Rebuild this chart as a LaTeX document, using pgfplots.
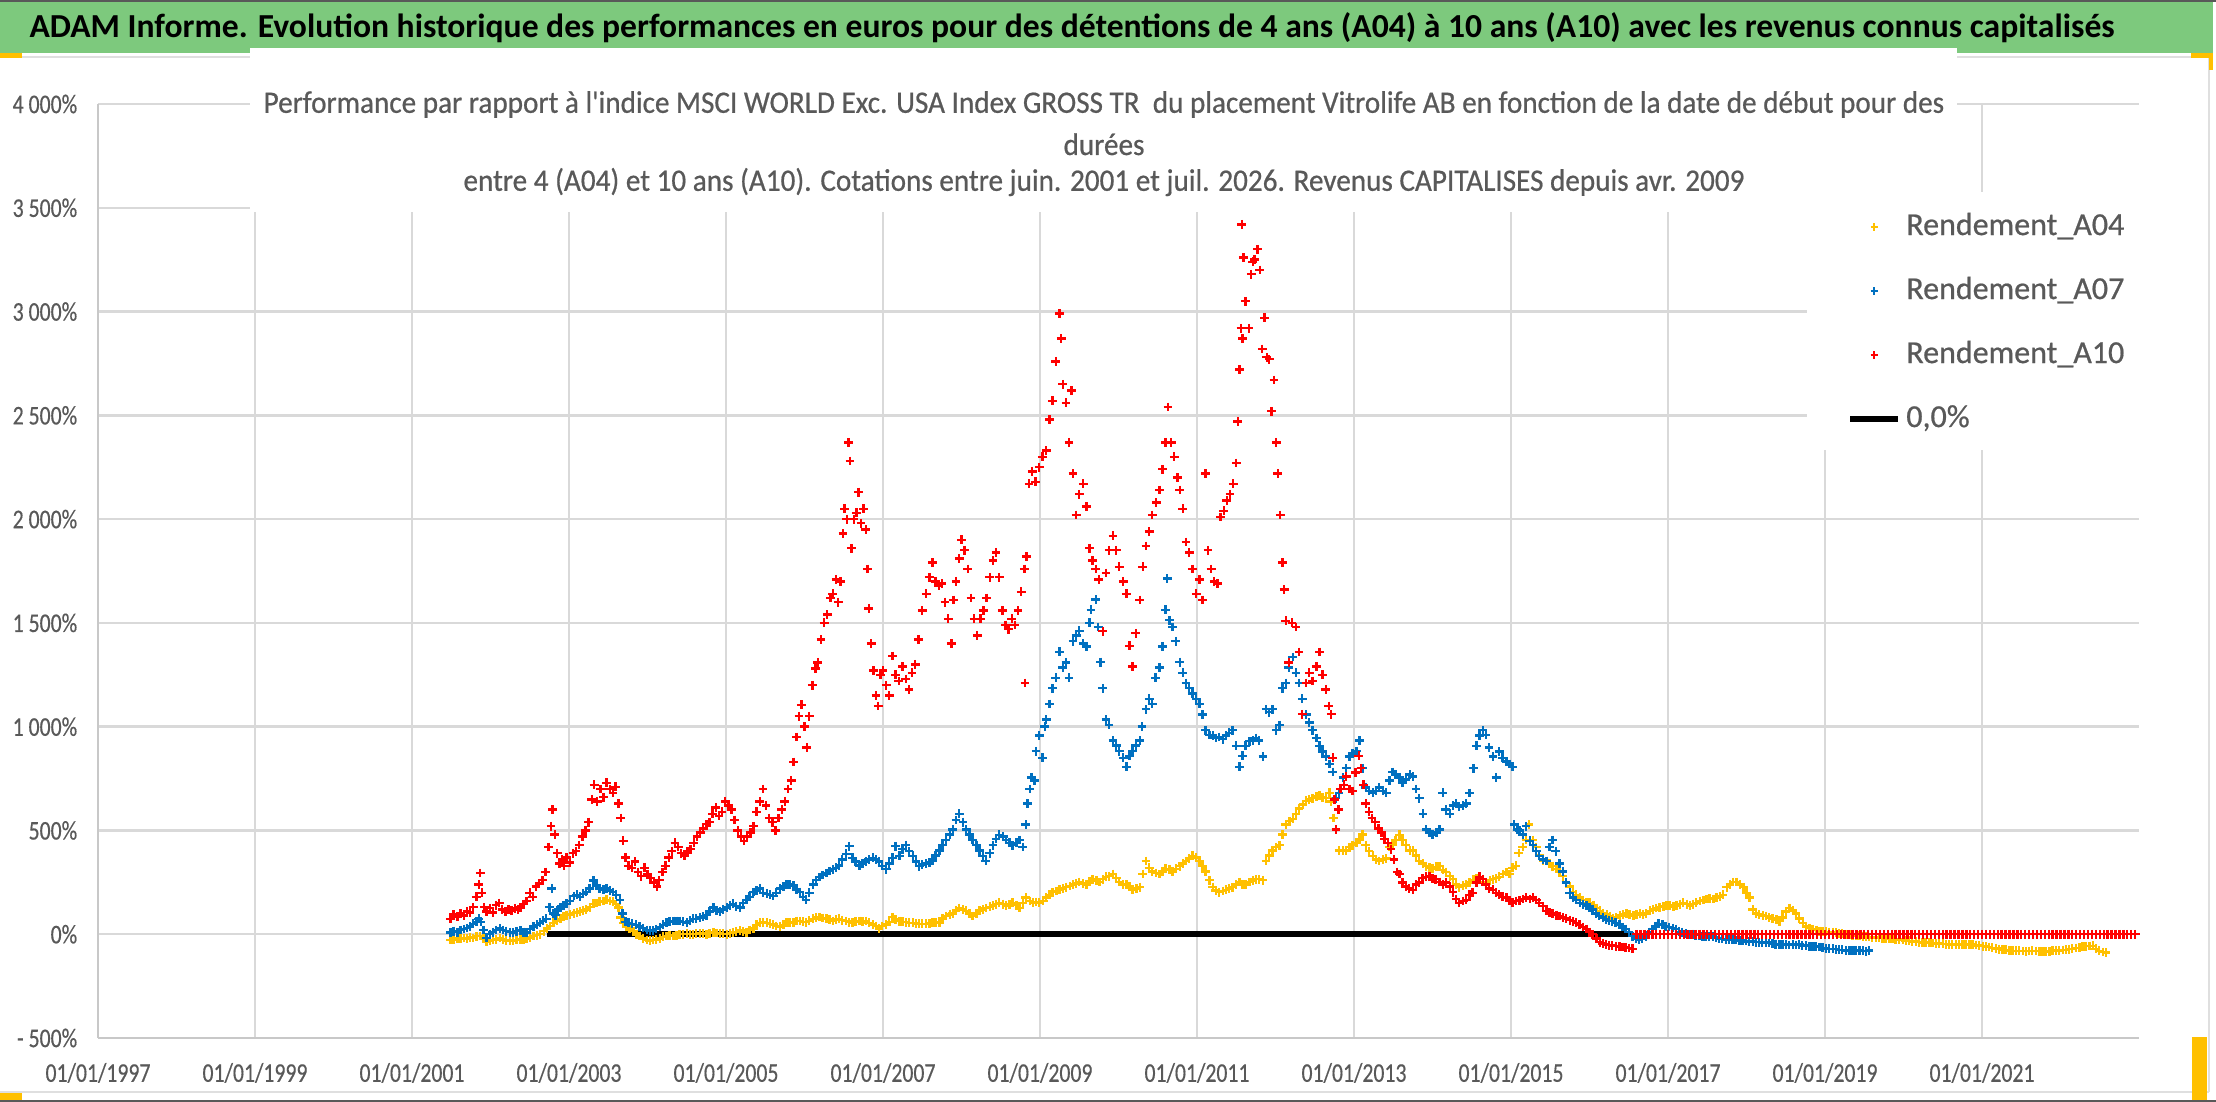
\documentclass[border=0pt]{standalone}
\usepackage{fontspec}
\setmainfont{Carlito}
\newfontfamily\tickfont{Carlito}[FakeStretch=0.805,FakeBold=0.4]
\newfontfamily\legfont{Carlito}[FakeBold=0.6]
\newfontfamily\ctfont{Carlito}[FakeStretch=0.935,FakeBold=0.6]
\newfontfamily\mtfont{Carlito}
\usepackage{pgfplots}
\pgfplotsset{compat=1.18}
\definecolor{cAa}{HTML}{FFC000}
\definecolor{cAb}{HTML}{0070C0}
\definecolor{cAc}{HTML}{FF0000}
\definecolor{txt}{HTML}{595959}
\definecolor{grd}{HTML}{D9D9D9}
\definecolor{axl}{HTML}{C8C8C8}
\definecolor{bann}{HTML}{7DC97D}
\definecolor{hdl}{HTML}{FFC000}
\begin{document}
\begin{tikzpicture}
\path[use as bounding box] (0pt,0pt) rectangle (554pt,275.5pt);
% banner
\fill[bann] (0pt,262.25pt) rectangle (553.25pt,275.2pt);
\draw[gray!70!black,line width=0.4pt] (0pt,275.3pt) -- (554pt,275.3pt);
\draw[gray!25,line width=0.6pt] (0pt,261.2pt) -- (552.25pt,261.2pt);
\draw[gray!25,line width=0.6pt] (552.25pt,261.2pt) -- (552.25pt,2.5pt);
\draw[gray!25,line width=0.6pt] (0pt,2.5pt) -- (552.25pt,2.5pt);
\draw[gray!70!black,line width=0.4pt] (0pt,0.2pt) -- (554pt,0.2pt);
\fill[hdl] (0pt,261pt) rectangle (5.5pt,262.3pt);
\fill[hdl] (0pt,0.5pt) rectangle (5.5pt,2.3pt);
\fill[hdl] (547.75pt,261pt) rectangle (553.25pt,262.3pt);
\fill[hdl] (552.2pt,258pt) rectangle (553.25pt,262.3pt);
\fill[hdl] (548pt,0.5pt) rectangle (551.8pt,16.2pt);
\node[font=\mtfont\bfseries\fontsize{8.4}{10}\selectfont, anchor=base, inner sep=0pt] at (268pt,266pt) {ADAM Informe. Evolution historique des performances en euros pour des détentions de 4 ans (A04) à 10 ans (A10) avec les revenus connus capitalisés};
\begin{axis}[
  at={(24.5pt,16pt)}, anchor=south west,
  scale only axis, width=510.25pt, height=233.5pt,
  xmin=1997, xmax=2023, ymin=-500, ymax=4000,
  axis lines=left, axis line style={axl, line width=0.7pt, -},
  clip=false,
  xtick={1997,1999,2001,2003,2005,2007,2009,2011,2013,2015,2017,2019,2021},
  xticklabels={01/01/1997,01/01/1999,01/01/2001,01/01/2003,01/01/2005,01/01/2007,01/01/2009,01/01/2011,01/01/2013,01/01/2015,01/01/2017,01/01/2019,01/01/2021},
  ytick={-500,0,500,1000,1500,2000,2500,3000,3500,4000},
  yticklabels={- 500\%,0\%,500\%,1~000\%,1~500\%,2~000\%,2~500\%,3~000\%,3~500\%,4~000\%},
  major tick length=0pt,
  grid=major, major grid style={grd, line width=0.6pt},
  xticklabel style={font=\tickfont\fontsize{6.75}{8}\selectfont, text=txt, anchor=center, yshift=-8.75pt, inner sep=0pt},
  yticklabel style={font=\tickfont\fontsize{6.75}{8}\selectfont, text=txt, anchor=east, inner sep=0pt, xshift=-5pt},
  legend style={at={(0.8569,0.8854)}, anchor=north west, draw=none, fill=none, inner sep=0pt, outer sep=0pt,
     row sep=8pt, column sep=1.25pt, font=\legfont\fontsize{8}{9}\selectfont, text=txt,
     nodes={inner sep=0pt, text height=6pt, text depth=2pt, anchor=west}},
  legend cell align=left,
  legend image code/.code={\draw[mark repeat=2,mark phase=2,#1,mark size=0.9pt,mark options={line width=0.45pt}] plot coordinates {(0pt,0pt) (6pt,0pt) (12pt,0pt)};},
  every axis plot/.append style={mark size=1.1pt},
]
\fill[white] (rel axis cs:0.0745,0.8844) rectangle (rel axis cs:0.9108,1.06);
\fill[white] (rel axis cs:0.8373,0.6296) rectangle (rel axis cs:1.0,0.9058);
% A04
\addplot[only marks, mark=+, color=cAa, mark options={line width=0.6pt}] coordinates {
(2001.49,-28)(2001.53,-25)(2001.58,-20)(2001.62,-22)(2001.66,-18)(2001.70,-20)(2001.74,-15)(2001.78,-18)(2001.82,-10)(2001.87,-9)
(2001.91,-20)(2001.95,-37)(2001.99,-30)(2002.03,-28)(2002.07,-25)(2002.12,-18)(2002.16,-25)(2002.20,-30)(2002.25,-33)(2002.29,-30)
(2002.33,-28)(2002.38,-25)(2002.42,-28)(2002.46,-22)(2002.50,-15)(2002.55,-9)(2002.59,-5)(2002.63,0)(2002.68,15)(2002.72,28)
(2002.76,40)(2002.80,55)(2002.85,65)(2002.89,74)(2002.93,85)(2002.97,92)(2003.01,95)(2003.06,101)(2003.10,105)(2003.14,110)
(2003.18,115)(2003.22,120)(2003.27,130)(2003.31,147)(2003.35,150)(2003.39,157)(2003.44,160)(2003.48,166)(2003.52,160)(2003.56,157)
(2003.60,145)(2003.63,129)(2003.66,80)(2003.69,55)(2003.73,37)(2003.77,25)(2003.82,15)(2003.86,0)(2003.90,-9)(2003.94,-20)
(2003.99,-28)(2004.03,-30)(2004.07,-28)(2004.11,-25)(2004.16,-20)(2004.20,-12)(2004.24,-9)(2004.28,-5)(2004.33,-9)(2004.37,-5)
(2004.41,0)(2004.45,0)(2004.50,2)(2004.54,0)(2004.58,0)(2004.62,2)(2004.67,5)(2004.71,3)(2004.75,0)(2004.79,5)
(2004.84,9)(2004.88,6)(2004.92,4)(2004.96,2)(2005.01,0)(2005.05,5)(2005.09,9)(2005.13,12)(2005.18,18)(2005.22,12)
(2005.26,9)(2005.30,20)(2005.35,28)(2005.39,45)(2005.43,55)(2005.47,58)(2005.52,55)(2005.56,50)(2005.60,46)(2005.64,40)
(2005.69,37)(2005.73,45)(2005.77,55)(2005.81,55)(2005.86,58)(2005.90,64)(2005.94,64)(2005.98,60)(2006.02,58)(2006.06,65)
(2006.11,74)(2006.15,80)(2006.19,83)(2006.23,78)(2006.28,74)(2006.32,70)(2006.36,64)(2006.40,70)(2006.44,74)(2006.48,68)
(2006.53,64)(2006.57,58)(2006.61,55)(2006.65,60)(2006.70,64)(2006.74,60)(2006.78,64)(2006.82,55)(2006.87,46)(2006.91,40)
(2006.95,28)(2006.99,40)(2007.04,46)(2007.08,60)(2007.12,83)(2007.16,70)(2007.21,63)(2007.25,60)(2007.29,58)(2007.33,55)
(2007.38,55)(2007.42,52)(2007.46,50)(2007.50,50)(2007.55,50)(2007.59,52)(2007.63,55)(2007.67,56)(2007.72,56)(2007.76,75)
(2007.80,88)(2007.85,95)(2007.89,100)(2007.93,115)(2007.97,126)(2008.02,120)(2008.06,113)(2008.10,100)(2008.14,88)(2008.19,100)
(2008.23,113)(2008.27,120)(2008.31,126)(2008.36,132)(2008.40,139)(2008.44,145)(2008.48,151)(2008.53,145)(2008.57,139)(2008.61,145)
(2008.65,151)(2008.70,140)(2008.74,126)(2008.78,150)(2008.82,176)(2008.87,160)(2008.91,151)(2008.95,155)(2008.99,151)(2009.04,160)
(2009.08,176)(2009.12,190)(2009.16,202)(2009.21,208)(2009.25,214)(2009.29,220)(2009.33,227)(2009.38,232)(2009.42,240)(2009.46,245)
(2009.50,252)(2009.55,245)(2009.59,240)(2009.63,255)(2009.67,265)(2009.72,258)(2009.76,252)(2009.80,265)(2009.84,277)(2009.88,280)
(2009.93,290)(2009.97,270)(2010.01,252)(2010.06,240)(2010.10,240)(2010.14,230)(2010.18,214)(2010.23,220)(2010.27,227)(2010.31,290)
(2010.35,353)(2010.39,320)(2010.43,303)(2010.48,295)(2010.52,290)(2010.56,303)(2010.60,315)(2010.65,310)(2010.69,303)(2010.73,315)
(2010.78,328)(2010.82,340)(2010.86,353)(2010.90,365)(2010.94,378)(2010.99,370)(2011.03,353)(2011.07,330)(2011.11,303)(2011.16,260)
(2011.20,227)(2011.24,210)(2011.28,202)(2011.33,208)(2011.37,214)(2011.41,220)(2011.45,227)(2011.50,240)(2011.54,252)(2011.58,240)
(2011.62,240)(2011.67,252)(2011.71,258)(2011.75,265)(2011.79,265)(2011.84,260)(2011.88,353)(2011.92,380)(2011.96,403)(2012.01,420)
(2012.05,429)(2012.09,480)(2012.13,529)(2012.18,545)(2012.22,555)(2012.26,580)(2012.30,605)(2012.35,625)(2012.39,643)(2012.43,650)
(2012.47,655)(2012.52,665)(2012.56,670)(2012.60,660)(2012.64,655)(2012.69,681)(2012.71,640)(2012.74,560)(2012.77,504)(2012.81,403)
(2012.86,403)(2012.90,403)(2012.94,420)(2012.98,429)(2013.03,440)(2013.07,454)(2013.11,480)(2013.15,429)(2013.19,400)(2013.24,378)
(2013.28,360)(2013.32,353)(2013.37,360)(2013.41,365)(2013.45,420)(2013.49,430)(2013.53,454)(2013.58,479)(2013.62,455)(2013.66,430)
(2013.71,403)(2013.75,403)(2013.79,380)(2013.83,353)(2013.88,340)(2013.92,328)(2013.96,320)(2014.00,315)(2014.05,325)(2014.09,328)
(2014.13,310)(2014.17,300)(2014.22,280)(2014.26,265)(2014.30,240)(2014.34,227)(2014.39,235)(2014.43,240)(2014.47,250)(2014.52,262)
(2014.56,270)(2014.60,277)(2014.64,265)(2014.68,252)(2014.73,260)(2014.77,265)(2014.81,270)(2014.85,277)(2014.90,290)(2014.94,300)
(2014.98,290)(2015.02,320)(2015.06,330)(2015.10,391)(2015.15,420)(2015.19,454)(2015.23,529)(2015.28,454)(2015.32,420)(2015.36,380)
(2015.41,355)(2015.45,353)(2015.49,340)(2015.53,328)(2015.58,315)(2015.62,303)(2015.66,280)(2015.70,252)(2015.75,230)(2015.79,202)
(2015.83,190)(2015.88,176)(2015.92,165)(2015.96,151)(2016.00,151)(2016.05,140)(2016.09,126)(2016.13,113)(2016.17,100)(2016.22,95)
(2016.26,88)(2016.30,76)(2016.34,80)(2016.39,90)(2016.43,95)(2016.47,100)(2016.51,95)(2016.56,90)(2016.60,95)(2016.64,101)
(2016.68,95)(2016.72,100)(2016.77,113)(2016.81,120)(2016.85,126)(2016.89,130)(2016.94,135)(2016.98,139)(2017.02,140)(2017.07,132)
(2017.11,139)(2017.15,145)(2017.19,151)(2017.24,145)(2017.28,139)(2017.32,145)(2017.36,151)(2017.41,160)(2017.45,165)(2017.49,170)
(2017.53,172)(2017.58,170)(2017.62,176)(2017.66,182)(2017.70,190)(2017.75,227)(2017.79,240)(2017.83,252)(2017.87,252)(2017.92,240)
(2017.96,227)(2018.00,200)(2018.04,176)(2018.08,120)(2018.12,100)(2018.16,95)(2018.21,90)(2018.25,88)(2018.29,80)(2018.33,76)
(2018.38,70)(2018.42,63)(2018.46,80)(2018.50,110)(2018.55,126)(2018.59,115)(2018.63,100)(2018.67,75)(2018.72,55)(2018.76,38)
(2018.80,30)(2018.84,25)(2018.89,20)(2018.93,15)(2018.97,14)(2019.01,12)(2019.05,11)(2019.10,10)(2019.14,8)(2019.18,5)(2019.22,3)(2019.27,0)
(2019.31,-2)(2019.35,-5)(2019.40,-6)(2019.44,-8)(2019.48,-10)(2019.52,-12)(2019.56,-13)(2019.60,-15)(2019.65,-16)(2019.69,-18)(2019.73,-19)(2019.77,-20)
(2019.82,-21)(2019.86,-22)(2019.90,-24)(2019.94,-25)(2019.99,-28)(2020.03,-30)(2020.07,-32)(2020.11,-35)(2020.16,-36)(2020.20,-38)(2020.24,-39)(2020.28,-40)
(2020.33,-41)(2020.37,-42)(2020.41,-44)(2020.45,-45)(2020.50,-46)(2020.54,-48)(2020.58,-49)(2020.62,-50)(2020.67,-50)(2020.71,-50)(2020.75,-49)(2020.79,-48)
(2020.84,-49)(2020.88,-50)(2020.92,-52)(2020.96,-55)(2021.01,-58)(2021.05,-60)(2021.09,-62)(2021.13,-65)(2021.18,-68)(2021.22,-72)(2021.26,-74)(2021.30,-75)
(2021.35,-78)(2021.39,-80)(2021.43,-80)(2021.47,-80)(2021.52,-81)(2021.56,-82)(2021.60,-81)(2021.64,-80)(2021.69,-81)(2021.73,-82)(2021.77,-84)(2021.81,-85)
(2021.86,-82)(2021.90,-80)(2021.94,-79)(2021.98,-78)(2022.03,-76)(2022.07,-75)(2022.11,-72)(2022.15,-70)(2022.20,-66)(2022.24,-65)(2022.28,-60)(2022.32,-58)
(2022.37,-57)(2022.41,-56)(2022.45,-70)(2022.49,-80)(2022.54,-86)(2022.58,-88)
};
\addlegendentry{Rendement\_A04}
% A07
\addplot[only marks, mark=+, color=cAb, mark options={line width=0.6pt}] coordinates {
(2001.49,9)(2001.53,15)(2001.58,10)(2001.62,20)(2001.66,25)(2001.70,30)(2001.74,37)(2001.78,50)(2001.82,60)(2001.85,74)
(2001.88,60)(2001.91,20)(2001.95,-18)(2001.99,0)(2002.03,10)(2002.07,20)(2002.12,28)(2002.16,20)(2002.20,15)(2002.25,10)
(2002.29,9)(2002.33,15)(2002.38,18)(2002.42,10)(2002.46,9)(2002.50,25)(2002.55,37)(2002.59,45)(2002.63,55)(2002.67,65)
(2002.71,74)(2002.75,130)(2002.78,221)(2002.80,100)(2002.83,92)(2002.86,120)(2002.89,129)(2002.93,140)(2002.97,147)(2003.01,160)
(2003.06,184)(2003.10,190)(2003.14,180)(2003.18,195)(2003.22,203)(2003.26,220)(2003.31,258)(2003.35,235)(2003.39,221)(2003.44,215)
(2003.48,221)(2003.52,210)(2003.56,203)(2003.60,190)(2003.65,166)(2003.68,100)(2003.72,60)(2003.76,55)(2003.80,50)(2003.85,45)
(2003.90,37)(2003.94,30)(2003.99,20)(2004.03,18)(2004.07,18)(2004.11,25)(2004.16,35)(2004.20,45)(2004.24,55)(2004.28,60)
(2004.33,64)(2004.37,64)(2004.41,64)(2004.45,60)(2004.50,55)(2004.54,65)(2004.58,74)(2004.62,74)(2004.67,80)(2004.71,85)
(2004.75,92)(2004.79,110)(2004.84,129)(2004.88,115)(2004.92,110)(2004.96,120)(2005.01,129)(2005.05,140)(2005.09,147)(2005.13,135)
(2005.18,129)(2005.22,150)(2005.26,166)(2005.30,180)(2005.35,203)(2005.39,210)(2005.43,221)(2005.47,200)(2005.52,195)(2005.56,190)
(2005.60,184)(2005.64,200)(2005.69,221)(2005.73,230)(2005.77,240)(2005.81,240)(2005.86,235)(2005.90,215)(2005.94,203)(2005.98,180)
(2006.02,166)(2006.06,200)(2006.11,240)(2006.15,260)(2006.19,276)(2006.23,285)(2006.28,295)(2006.32,305)(2006.36,313)(2006.40,320)
(2006.44,331)(2006.48,360)(2006.53,387)(2006.57,424)(2006.61,368)(2006.65,350)(2006.70,331)(2006.74,340)(2006.78,350)(2006.82,360)
(2006.87,368)(2006.91,360)(2006.95,350)(2006.99,330)(2007.04,313)(2007.08,340)(2007.12,368)(2007.16,424)(2007.21,378)(2007.25,410)
(2007.29,429)(2007.33,400)(2007.38,378)(2007.42,350)(2007.46,328)(2007.50,335)(2007.55,340)(2007.59,345)(2007.63,353)(2007.67,380)
(2007.72,403)(2007.76,430)(2007.80,454)(2007.85,480)(2007.89,504)(2007.93,550)(2007.97,580)(2008.02,540)(2008.06,504)(2008.10,480)
(2008.14,454)(2008.19,430)(2008.23,403)(2008.27,378)(2008.31,353)(2008.36,390)(2008.40,429)(2008.44,460)(2008.48,479)(2008.53,470)
(2008.57,454)(2008.61,440)(2008.65,429)(2008.70,440)(2008.74,454)(2008.78,420)(2008.82,529)(2008.84,630)(2008.87,700)(2008.89,756)
(2008.93,740)(2008.95,882)(2008.99,958)(2009.03,850)(2009.06,1000)(2009.08,1034)(2009.12,1109)(2009.16,1185)(2009.20,1235)(2009.25,1361)
(2009.29,1286)(2009.33,1310)(2009.37,1235)(2009.42,1412)(2009.46,1440)(2009.50,1462)(2009.55,1400)(2009.59,1387)(2009.63,1500)(2009.65,1563)
(2009.71,1613)(2009.74,1480)(2009.77,1311)(2009.80,1185)(2009.84,1034)(2009.88,1008)(2009.93,933)(2009.97,910)(2010.01,882)(2010.06,850)
(2010.10,807)(2010.14,860)(2010.18,882)(2010.22,910)(2010.27,933)(2010.30,1000)(2010.35,1084)(2010.39,1134)(2010.43,1110)(2010.47,1235)
(2010.52,1286)(2010.56,1387)(2010.60,1563)(2010.62,1714)(2010.65,1513)(2010.69,1480)(2010.73,1412)(2010.78,1311)(2010.82,1260)(2010.86,1210)
(2010.90,1185)(2010.94,1160)(2010.99,1134)(2011.03,1110)(2011.07,1059)(2011.11,983)(2011.16,960)(2011.20,958)(2011.24,945)(2011.28,950)
(2011.33,940)(2011.37,958)(2011.41,970)(2011.45,983)(2011.50,908)(2011.54,807)(2011.58,860)(2011.62,908)(2011.67,930)(2011.71,933)
(2011.75,945)(2011.79,933)(2011.84,857)(2011.88,1084)(2011.92,1070)(2011.96,1084)(2012.01,983)(2012.05,1008)(2012.09,1185)(2012.13,1210)
(2012.17,1286)(2012.22,1336)(2012.26,1260)(2012.30,1210)(2012.34,1134)(2012.39,1059)(2012.43,1020)(2012.47,983)(2012.52,945)(2012.56,908)
(2012.60,880)(2012.64,857)(2012.69,820)(2012.73,782)(2012.77,655)(2012.81,680)(2012.86,756)(2012.90,800)(2012.94,857)(2012.98,870)
(2013.03,882)(2013.07,933)(2013.11,800)(2013.15,706)(2013.19,690)(2013.24,681)(2013.28,690)(2013.32,706)(2013.37,690)(2013.41,681)
(2013.45,740)(2013.49,782)(2013.53,770)(2013.58,756)(2013.62,731)(2013.66,745)(2013.71,769)(2013.75,760)(2013.79,700)(2013.83,655)
(2013.88,580)(2013.92,504)(2013.96,490)(2014.00,479)(2014.05,490)(2014.09,504)(2014.13,681)(2014.17,600)(2014.22,580)(2014.26,620)
(2014.30,630)(2014.34,615)(2014.39,620)(2014.43,630)(2014.47,680)(2014.52,800)(2014.56,908)(2014.60,958)(2014.64,983)(2014.68,960)
(2014.72,900)(2014.77,857)(2014.81,756)(2014.85,880)(2014.89,850)(2014.94,832)(2014.98,820)(2015.02,807)(2015.04,529)(2015.08,504)
(2015.11,500)(2015.15,480)(2015.19,520)(2015.24,450)(2015.28,429)(2015.32,400)(2015.36,378)(2015.41,360)(2015.45,353)(2015.49,420)
(2015.53,454)(2015.57,400)(2015.62,340)(2015.66,303)(2015.70,250)(2015.75,200)(2015.79,176)(2015.83,165)(2015.88,150)(2015.92,145)
(2015.96,139)(2016.00,130)(2016.04,120)(2016.08,100)(2016.12,88)(2016.17,80)(2016.21,70)(2016.25,65)(2016.29,63)(2016.33,55)
(2016.38,45)(2016.42,35)(2016.46,25)(2016.50,10)(2016.55,-10)(2016.59,-20)(2016.63,-25)(2016.67,-20)(2016.72,-10)(2016.76,10)
(2016.80,25)(2016.84,40)(2016.88,50)(2016.93,45)(2016.97,38)(2017.01,35)(2017.06,30)(2017.10,25)(2017.14,12)(2017.18,10)
(2017.23,5)(2017.27,0)(2017.31,0)(2017.35,-5)(2017.40,-5)(2017.44,-10)(2017.48,-12)(2017.52,-10)(2017.57,-12)(2017.61,-15)
(2017.65,-20)(2017.69,-22)(2017.74,-25)(2017.78,-25)(2017.82,-25)(2017.86,-28)(2017.91,-30)(2017.95,-30)(2017.99,-32)(2018.03,-35)
(2018.08,-35)(2018.12,-38)(2018.16,-38)(2018.20,-40)(2018.25,-40)(2018.29,-42)(2018.33,-45)(2018.37,-48)(2018.42,-50)(2018.46,-50)
(2018.50,-50)(2018.54,-52)(2018.59,-50)(2018.63,-52)(2018.67,-50)(2018.71,-55)(2018.76,-55)(2018.80,-58)(2018.84,-60)(2018.88,-60)
(2018.93,-62)(2018.97,-65)(2019.01,-68)(2019.05,-70)(2019.10,-70)(2019.14,-72)(2019.18,-75)(2019.22,-75)(2019.27,-78)(2019.31,-80)
(2019.35,-78)(2019.39,-80)(2019.44,-78)(2019.48,-80)(2019.52,-82)(2019.56,-78)
};
\addlegendentry{Rendement\_A07}
% A10
\addplot[only marks, mark=+, color=cAc, mark options={line width=0.6pt}] coordinates {
(2001.49,74)(2001.53,95)(2001.58,85)(2001.62,100)(2001.66,90)(2001.70,110)(2001.74,105)(2001.78,130)(2001.82,180)(2001.85,240)
(2001.87,295)(2001.89,200)(2001.92,130)(2001.95,110)(2001.99,125)(2002.03,105)(2002.07,140)(2002.11,150)(2002.15,120)(2002.19,110)
(2002.23,120)(2002.27,115)(2002.31,125)(2002.35,120)(2002.38,130)(2002.42,145)(2002.46,160)(2002.50,200)(2002.54,180)(2002.58,230)
(2002.62,245)(2002.66,260)(2002.70,300)(2002.74,420)(2002.77,520)(2002.79,600)(2002.82,480)(2002.85,390)(2002.88,340)(2002.91,360)
(2002.94,330)(2002.97,370)(2003.01,345)(2003.05,390)(2003.09,400)(2003.13,430)(2003.17,470)(2003.21,500)(2003.25,540)(2003.29,650)
(2003.32,720)(2003.36,640)(2003.40,700)(2003.44,660)(2003.48,730)(2003.52,700)(2003.56,680)(2003.59,710)(2003.63,630)(2003.66,560)
(2003.69,450)(2003.72,370)(2003.76,330)(2003.80,320)(2003.84,350)(2003.88,300)(2003.92,280)(2003.96,320)(2004.00,290)(2004.04,270)
(2004.08,250)(2004.12,230)(2004.15,260)(2004.19,300)(2004.23,330)(2004.27,370)(2004.31,400)(2004.35,440)(2004.39,420)(2004.43,390)
(2004.47,380)(2004.51,400)(2004.55,410)(2004.59,440)(2004.63,470)(2004.67,490)(2004.71,510)(2004.75,530)(2004.79,540)(2004.83,580)
(2004.87,610)(2004.91,570)(2004.95,590)(2004.99,640)(2005.03,620)(2005.07,600)(2005.11,550)(2005.15,500)(2005.19,470)(2005.23,450)
(2005.27,470)(2005.31,490)(2005.35,520)(2005.39,590)(2005.43,640)(2005.47,700)(2005.51,620)(2005.55,560)(2005.59,540)(2005.63,500)
(2005.67,560)(2005.71,600)(2005.75,640)(2005.79,700)(2005.83,740)(2005.86,830)(2005.90,950)(2005.93,1050)(2005.96,1105)(2006.00,1000)
(2006.03,900)(2006.06,1050)(2006.10,1200)(2006.14,1280)(2006.17,1310)(2006.21,1420)(2006.25,1500)(2006.29,1540)(2006.33,1620)(2006.36,1640)
(2006.40,1710)(2006.43,1600)(2006.46,1700)(2006.49,1930)(2006.51,2050)(2006.54,2000)(2006.56,2370)(2006.58,2280)(2006.60,1860)(2006.63,2000)
(2006.66,2030)(2006.69,2130)(2006.72,1980)(2006.75,2050)(2006.78,1950)(2006.80,1760)(2006.82,1570)(2006.85,1400)(2006.88,1270)(2006.91,1150)
(2006.94,1100)(2006.97,1250)(2007.00,1270)(2007.04,1200)(2007.08,1150)(2007.12,1340)(2007.16,1250)(2007.20,1220)(2007.25,1290)(2007.29,1230)
(2007.33,1180)(2007.37,1260)(2007.41,1300)(2007.45,1420)(2007.50,1560)(2007.55,1640)(2007.59,1720)(2007.63,1790)(2007.67,1700)(2007.71,1680)
(2007.75,1690)(2007.79,1600)(2007.83,1520)(2007.87,1400)(2007.90,1610)(2007.93,1700)(2007.97,1810)(2008.00,1900)(2008.04,1850)(2008.08,1760)
(2008.12,1620)(2008.16,1520)(2008.20,1440)(2008.24,1520)(2008.28,1560)(2008.32,1620)(2008.36,1720)(2008.40,1800)(2008.44,1840)(2008.48,1720)
(2008.52,1560)(2008.56,1490)(2008.60,1470)(2008.64,1520)(2008.68,1490)(2008.72,1560)(2008.76,1650)(2008.80,1760)(2008.81,1210)(2008.83,1820)
(2008.86,2170)(2008.90,2230)(2008.94,2180)(2008.99,2250)(2009.03,2300)(2009.08,2330)(2009.12,2480)(2009.16,2570)(2009.20,2760)(2009.25,2990)
(2009.27,2870)(2009.29,2650)(2009.33,2560)(2009.37,2370)(2009.40,2620)(2009.42,2220)(2009.46,2020)(2009.50,2120)(2009.55,2170)(2009.59,2060)
(2009.63,1860)(2009.67,1800)(2009.71,1760)(2009.75,1710)(2009.80,1460)(2009.84,1740)(2009.88,1850)(2009.93,1920)(2009.97,1850)(2010.01,1770)
(2010.06,1700)(2010.10,1640)(2010.14,1390)(2010.18,1290)(2010.22,1450)(2010.27,1610)(2010.31,1770)(2010.35,1870)(2010.39,1940)(2010.43,2020)
(2010.48,2080)(2010.52,2140)(2010.56,2240)(2010.60,2370)(2010.63,2540)(2010.67,2370)(2010.71,2300)(2010.75,2200)(2010.78,2140)(2010.82,2050)
(2010.86,1890)(2010.90,1840)(2010.94,1760)(2010.99,1640)(2011.03,1710)(2011.07,1610)(2011.11,2220)(2011.14,1850)(2011.18,1760)(2011.22,1700)
(2011.26,1690)(2011.30,2010)(2011.34,2040)(2011.38,2090)(2011.42,2120)(2011.46,2170)(2011.50,2270)(2011.52,2470)(2011.54,2720)(2011.56,2920)
(2011.57,3420)(2011.58,2870)(2011.59,3260)(2011.62,3050)(2011.66,2920)(2011.69,3180)(2011.71,3240)(2011.73,3250)(2011.77,3300)(2011.80,3200)(2011.83,2820)(2011.86,2970)
(2011.89,2780)(2011.92,2770)(2011.95,2520)(2011.98,2670)(2012.01,2370)(2012.03,2220)(2012.06,2020)(2012.09,1790)(2012.11,1660)(2012.13,1510)
(2012.17,1310)(2012.21,1500)(2012.26,1480)(2012.30,1360)(2012.34,1060)(2012.39,1210)(2012.43,1260)(2012.47,1220)(2012.52,1290)(2012.56,1360)
(2012.60,1250)(2012.64,1180)(2012.68,1100)(2012.71,1060)(2012.73,850)(2012.75,650)(2012.77,504)(2012.80,600)(2012.83,700)(2012.87,720)
(2012.90,760)(2012.94,700)(2012.98,690)(2013.02,780)(2013.06,860)(2013.09,800)(2013.12,720)(2013.15,630)(2013.19,590)(2013.23,560)
(2013.27,540)(2013.31,510)(2013.35,490)(2013.39,460)(2013.43,440)(2013.47,410)(2013.51,360)(2013.55,300)(2013.58,290)(2013.62,250)
(2013.66,230)(2013.70,220)(2013.75,214)(2013.79,240)(2013.83,250)(2013.87,270)(2013.92,277)(2013.96,280)(2014.00,270)(2014.04,265)
(2014.09,252)(2014.13,240)(2014.17,250)(2014.22,230)(2014.26,202)(2014.30,170)(2014.34,151)(2014.39,160)(2014.43,165)(2014.47,190)
(2014.51,200)(2014.56,250)(2014.60,277)(2014.64,265)(2014.68,240)(2014.72,220)(2014.77,214)(2014.81,200)(2014.85,190)(2014.89,180)
(2014.94,176)(2014.98,160)(2015.02,151)(2015.06,160)(2015.11,163)(2015.15,170)(2015.19,176)(2015.24,170)(2015.28,176)(2015.32,165)
(2015.36,151)(2015.41,135)(2015.45,113)(2015.49,105)(2015.53,100)(2015.58,92)(2015.62,88)(2015.66,80)(2015.70,75)(2015.75,68)
(2015.79,63)(2015.83,55)(2015.87,45)(2015.92,35)(2015.96,25)(2016.00,10)(2016.04,0)(2016.09,-20)(2016.13,-38)(2016.17,-45)
(2016.21,-50)(2016.25,-53)(2016.29,-55)(2016.34,-58)(2016.38,-60)(2016.42,-62)(2016.46,-63)(2016.50,-66)(2016.55,-70)
(2016.60,0)(2016.65,0)(2016.70,0)(2016.75,0)(2016.80,0)(2016.85,0)(2016.90,0)(2016.95,0)
(2017.00,0)(2017.05,0)(2017.10,0)(2017.15,0)(2017.20,0)(2017.25,0)(2017.30,0)(2017.35,0)(2017.40,0)(2017.45,0)
(2017.50,0)(2017.55,0)(2017.60,0)(2017.65,0)(2017.70,0)(2017.75,0)(2017.80,0)(2017.85,0)(2017.90,0)(2017.95,0)
(2018.00,0)(2018.05,0)(2018.10,0)(2018.15,0)(2018.20,0)(2018.25,0)(2018.30,0)(2018.35,0)(2018.40,0)(2018.45,0)
(2018.50,0)(2018.55,0)(2018.60,0)(2018.65,0)(2018.70,0)(2018.75,0)(2018.80,0)(2018.85,0)(2018.90,0)(2018.95,0)
(2019.00,0)(2019.05,0)(2019.10,0)(2019.15,0)(2019.20,0)(2019.25,0)(2019.30,0)(2019.35,0)(2019.40,0)(2019.45,0)
(2019.50,0)(2019.55,0)(2019.60,0)(2019.65,0)(2019.70,0)(2019.75,0)(2019.80,0)(2019.85,0)(2019.90,0)(2019.95,0)
(2020.00,0)(2020.05,0)(2020.10,0)(2020.15,0)(2020.20,0)(2020.25,0)(2020.30,0)(2020.35,0)(2020.40,0)(2020.45,0)
(2020.50,0)(2020.55,0)(2020.60,0)(2020.65,0)(2020.70,0)(2020.75,0)(2020.80,0)(2020.85,0)(2020.90,0)(2020.95,0)
(2021.00,0)(2021.05,0)(2021.10,0)(2021.15,0)(2021.20,0)(2021.25,0)(2021.30,0)(2021.35,0)(2021.40,0)(2021.45,0)
(2021.50,0)(2021.55,0)(2021.60,0)(2021.65,0)(2021.70,0)(2021.75,0)(2021.80,0)(2021.85,0)(2021.90,0)(2021.95,0)
(2022.00,0)(2022.05,0)(2022.10,0)(2022.15,0)(2022.20,0)(2022.25,0)(2022.30,0)(2022.35,0)(2022.40,0)(2022.45,0)
(2022.50,0)(2022.55,0)(2022.60,0)(2022.65,0)(2022.70,0)(2022.75,0)(2022.80,0)(2022.85,0)(2022.90,0)(2022.95,0)
};
\addlegendentry{Rendement\_A10}
% 0,0%
\addplot[black, line width=1.6pt, mark=none] coordinates {(2002.72,0)(2016.55,0)};
\addlegendentry{0,0\%}
\end{axis}
\begin{scope}[every node/.style={font=\ctfont\fontsize{7.8}{10}\selectfont, text=txt, anchor=base, inner sep=0pt}]
\node at (276pt,247.3pt) {Performance par rapport à l'indice MSCI WORLD Exc. USA Index GROSS TR\ \ du placement Vitrolife AB en fonction de la date de début pour des};
\node at (276pt,236.75pt) {durées};
\node at (276pt,227.8pt) {entre 4 (A04) et 10 ans (A10). Cotations entre juin. 2001 et juil. 2026. Revenus CAPITALISES depuis avr. 2009};
\end{scope}
\end{tikzpicture}
\end{document}
